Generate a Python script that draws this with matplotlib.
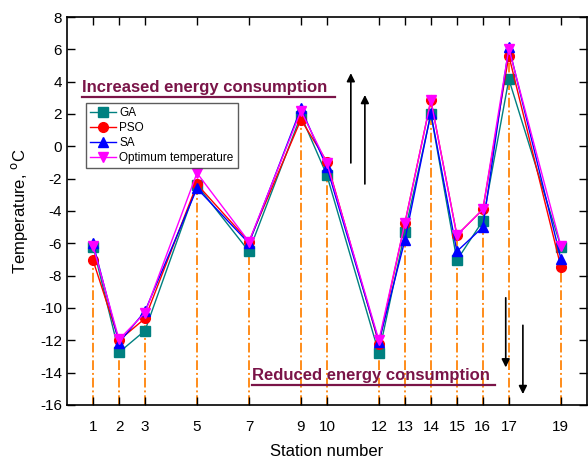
import numpy as np
import matplotlib.pyplot as plt

plt.rcParams['font.family'] = ['Liberation Sans', 'DejaVu Sans']
plt.rcParams['axes.unicode_minus'] = False

stations = [1, 2, 3, 5, 7, 9, 10, 12, 13, 14, 15, 16, 17, 19]
ga = [-6.2, -12.75, -11.4, -2.4, -6.5, 1.9, -1.8, -12.8, -5.3, 2.0, -7.05, -4.6, 4.15, -6.2]
pso = [-7.05, -12.0, -10.65, -2.35, -5.9, 1.65, -0.95, -12.2, -4.75, 2.85, -5.5, -3.9, 5.6, -7.45]
sa = [-6.0, -12.15, -10.2, -2.6, -6.0, 2.35, -1.3, -12.1, -5.8, 2.05, -6.5, -5.0, 6.15, -6.95]
opt = [-6.15, -11.95, -10.3, -1.65, -5.9, 2.2, -1.05, -12.0, -4.75, 2.85, -5.5, -3.9, 6.05, -6.15]

fig = plt.figure(figsize=(5.88, 4.66), dpi=100)
ax = fig.add_axes([0.114, 0.131, 0.884, 0.8325])

# drop lines from bottom to each station
tops = np.max([ga, pso, sa, opt], axis=0)
ax.vlines(stations, -16, tops, colors='#FF8C1A', linestyles=(0, (5, 1.5, 1, 1.5)), linewidth=1.4, zorder=1)

ax.plot(stations, ga, color='#008080', marker='s', markersize=6.5, linewidth=1, label='GA', zorder=3)
ax.plot(stations, pso, color='red', marker='o', markersize=7, linewidth=1, label='PSO', zorder=3)
ax.plot(stations, sa, color='blue', marker='^', markersize=7, linewidth=1, label='SA', zorder=3)
ax.plot(stations, opt, color='magenta', marker='v', markersize=7.5, linewidth=1, label='Optimum temperature', zorder=3)

ax.set_xlim(0, 20)
ax.set_ylim(-16, 8)
ax.set_xticks(stations)
ax.set_yticks(range(-16, 9, 2))
ax.tick_params(direction='in', top=True, right=True, length=6, width=1, labelsize=11)
ax.tick_params(axis='x', pad=11)
for s in ax.spines.values():
    s.set_linewidth(1.2)

ax.set_xlabel('Station number', fontsize=12, labelpad=7)
ax.set_ylabel('Temperature, $^{\\mathrm{o}}$C', fontsize=12, labelpad=7)

leg = ax.legend(loc='upper left', bbox_to_anchor=(0.036, 0.778), fontsize=8.5, frameon=True,
                fancybox=False, edgecolor='#333333', handlelength=2.2, borderpad=0.35,
                labelspacing=0.25, handletextpad=0.3, borderaxespad=0)
leg.get_frame().set_linewidth(1)

maroon = '#7A1448'
ax.text(0.029, 0.799, 'Increased energy consumption', transform=ax.transAxes,
        fontsize=12, fontweight='bold', color=maroon, ha='left', va='bottom')
ax.plot([0.029, 0.515], [0.794, 0.794], transform=ax.transAxes, color=maroon, linewidth=1.6, clip_on=False)
ax.text(0.356, 0.056, 'Reduced energy consumption', transform=ax.transAxes,
        fontsize=12, fontweight='bold', color=maroon, ha='left', va='bottom')
ax.plot([0.356, 0.823], [0.052, 0.052], transform=ax.transAxes, color=maroon, linewidth=1.6, clip_on=False)

arrow = dict(arrowstyle='-|>', color='black', lw=1.2, mutation_scale=12)
ax.annotate('', xy=(10.92, 4.7), xytext=(10.92, -1.2), arrowprops=arrow)
ax.annotate('', xy=(11.46, 3.35), xytext=(11.46, -2.5), arrowprops=arrow)
ax.annotate('', xy=(16.88, -13.85), xytext=(16.88, -9.2), arrowprops=arrow)
ax.annotate('', xy=(17.54, -15.5), xytext=(17.54, -10.9), arrowprops=arrow)

fig.savefig('out.png', dpi=100)
